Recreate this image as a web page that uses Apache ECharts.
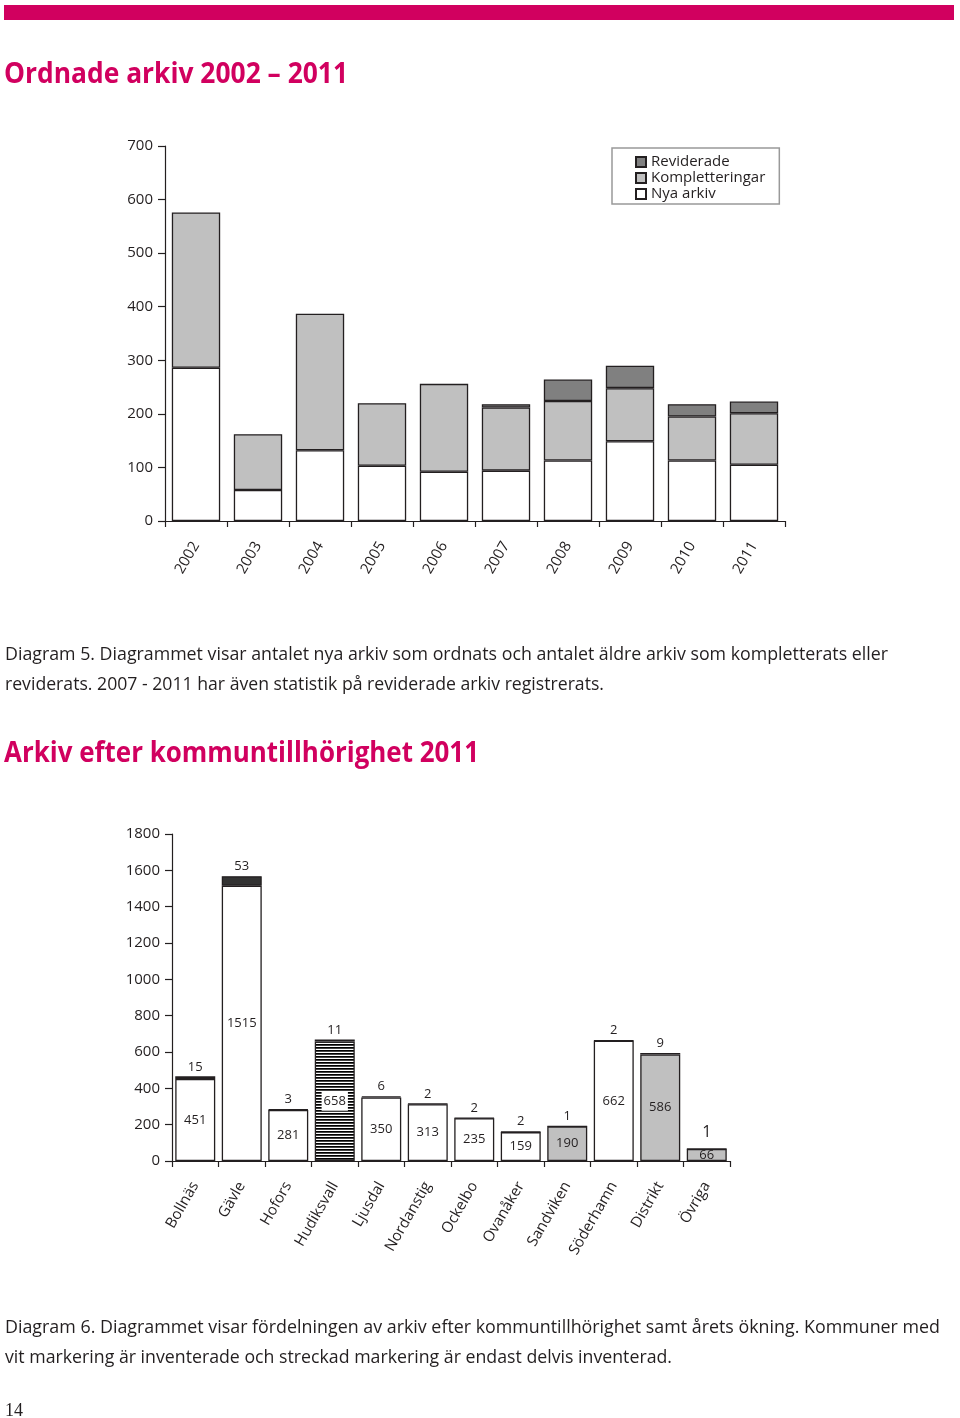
<!DOCTYPE html>
<html><head><meta charset="utf-8">
<script src="https://cdn.jsdelivr.net/npm/echarts@6/dist/echarts.min.js"></script>
<style>html,body{margin:0;padding:0;background:#fff}#c{width:960px;height:1418px}</style>
</head><body><div id="c"></div>
<script>
// ---- Diagram 5 data ----
const years = ['2002','2003','2004','2005','2006','2007','2008','2009','2010','2011'];
const nyaArkiv = [286, 58, 132, 103, 92, 94, 113, 149, 113, 105];
const kompletteringar = [290, 104, 255, 117, 164, 118, 111, 99, 82, 96];
const reviderade = [null, null, null, null, null, 6, 40, 42, 23, 22];
const yTicks5 = [0, 100, 200, 300, 400, 500, 600, 700];

// ---- Diagram 6 data ----
const kommuner = ['Bollnäs','Gävle','Hofors','Hudiksvall','Ljusdal','Nordanstig','Ockelbo','Ovanåker','Sandviken','Söderhamn','Distrikt','Övriga'];
const arkiv2011 = [451, 1515, 281, 658, 350, 313, 235, 159, 190, 662, 586, 66];
const okning = [15, 53, 3, 11, 6, 2, 2, 2, 1, 2, 9, 1];
const inventering = ['inventerad','inventerad','inventerad','delvis','inventerad','inventerad','inventerad','inventerad','ej','inventerad','ej','ej'];
const yTicks6 = [0, 200, 400, 600, 800, 1000, 1200, 1400, 1600, 1800];

const PINK = '#d1005f';
const INK = '#231f20';
const FONT = '"Open Sans", "Noto Sans", sans-serif';

// stripe pattern for partly inventoried
const pc = document.createElement('canvas');
pc.width = 4; pc.height = 3;
const pctx = pc.getContext('2d');
pctx.fillStyle = '#fff'; pctx.fillRect(0,0,4,3);
pctx.fillStyle = '#000'; pctx.fillRect(0,0,4,1);
pctx.fillStyle = '#444'; pctx.fillRect(0,1,4,1);
const stripe = {image: pc, repeat: 'repeat'};

function baseColor(s){
  if (s === 'delvis') return stripe;
  if (s === 'ej') return '#c0c0c0';
  return '#ffffff';
}

// text width fitting helper
const mc = document.createElement('canvas').getContext('2d');
function fitText(text, x, yMid, font, fill, target){
  mc.font = font;
  const w = mc.measureText(text).width;
  const s = target ? target / w : 1;
  return {type:'text', x: x, y: yMid, scaleX: s, originX: 0,
    style:{text: text, font: font, fill: fill, verticalAlign:'middle', align:'left'}};
}

const chart = echarts.init(document.getElementById('c'), null, {renderer:'canvas'});

const axisCommon = {
  axisLine:{show:true, lineStyle:{color:INK, width:1.2}},
  axisTick:{show:true, inside:false, lineStyle:{color:INK, width:1.2}},
  splitLine:{show:false}
};
const plain = v => String(v);

const option = {
  animation:false,
  textStyle:{fontFamily: FONT, color: INK},
  legend:{
    data:['Reviderade','Kompletteringar','Nya arkiv'],
    orient:'vertical', left:612, top:148,
    padding:[6,14,2,23], itemGap:0, itemWidth:10, itemHeight:10,
    borderColor:'#999', borderWidth:1.5, icon:'rect',
    textStyle:{fontSize:15, color:INK, fontFamily:FONT, lineHeight:16, padding:[0,0,0,0]}
  },
  grid:[
    {left:165, top:146, width:620, height:375},
    {left:172, top:834, width:558, height:327}
  ],
  xAxis:[
    Object.assign({}, axisCommon, {
      type:'category', gridIndex:0, data: years,
      axisTick:{show:true, length:6, alignWithLabel:false, lineStyle:{color:INK, width:1.2}},
      axisLabel:{rotate:60, margin:22, fontSize:15, color:INK, fontFamily:FONT}
    }),
    Object.assign({}, axisCommon, {
      type:'category', gridIndex:1, data: kommuner,
      axisTick:{show:true, length:6, alignWithLabel:false, lineStyle:{color:INK, width:1.2}},
      axisLabel:{rotate:60, margin:22, fontSize:15, color:INK, fontFamily:FONT}
    })
  ],
  yAxis:[
    Object.assign({}, axisCommon, {
      type:'value', gridIndex:0, min:yTicks5[0], max:yTicks5[yTicks5.length-1], interval:100,
      axisTick:{show:true, length:7, lineStyle:{color:INK, width:1.2}},
      axisLabel:{margin:12, fontSize:15, color:INK, fontFamily:FONT, formatter: plain}
    }),
    Object.assign({}, axisCommon, {
      type:'value', gridIndex:1, min:yTicks6[0], max:yTicks6[yTicks6.length-1], interval:200,
      axisTick:{show:true, length:7, lineStyle:{color:INK, width:1.2}},
      axisLabel:{margin:12, fontSize:15, color:INK, fontFamily:FONT, formatter: plain}
    })
  ],
  series:[
    {name:'Nya arkiv', type:'bar', stack:'a', xAxisIndex:0, yAxisIndex:0, barWidth:'78%',
      itemStyle:{color:'#ffffff', borderColor:INK, borderWidth:1.3}, data: nyaArkiv},
    {name:'Kompletteringar', type:'bar', stack:'a', xAxisIndex:0, yAxisIndex:0, barWidth:'78%',
      itemStyle:{color:'#c0c0c0', borderColor:INK, borderWidth:1.3}, data: kompletteringar},
    {name:'Reviderade', type:'bar', stack:'a', xAxisIndex:0, yAxisIndex:0, barWidth:'78%',
      itemStyle:{color:'#808080', borderColor:INK, borderWidth:1.3}, data: reviderade},
    {name:'Arkiv 2011', type:'bar', stack:'b', xAxisIndex:1, yAxisIndex:1, barWidth:'86%',
      itemStyle:{borderColor:INK, borderWidth:1.3},
      label:{show:true, position:'inside', fontSize:13, color:INK, fontFamily:FONT},
      data: arkiv2011.map((v,i)=>{
        const d = {value:v, itemStyle:{color: baseColor(inventering[i])}};
        if (inventering[i]==='delvis') d.label = {backgroundColor:'#fff', padding:[3,2,3,2]};
        return d;
      })},
    {name:'Ökning', type:'bar', stack:'b', xAxisIndex:1, yAxisIndex:1, barWidth:'86%',
      itemStyle:{color:'#333333', borderColor:INK, borderWidth:1.3},
      label:{show:true, position:'top', distance:3, fontSize:13, color:INK, fontFamily:FONT},
      data: okning.map((v,i)=> i===okning.length-1 ? {value:v, label:{fontSize:16, distance:8}} : v)}
  ],
  graphic:[
    {type:'rect', shape:{x:4, y:5, width:950, height:15}, style:{fill:PINK}},
    fitText('Ordnade arkiv 2002 – 2011', 4, 75, 'bold 28px ' + FONT, PINK, 344),
    fitText('Diagram 5. Diagrammet visar antalet nya arkiv som ordnats och antalet äldre arkiv som kompletterats eller', 5, 655, '18px ' + FONT, INK, 883),
    fitText('reviderats. 2007 - 2011 har även statistik på reviderade arkiv registrerats.', 5, 685, '18px ' + FONT, INK, 599),
    fitText('Arkiv efter kommuntillhörighet 2011', 4, 754, 'bold 28px ' + FONT, PINK, 475),
    fitText('Diagram 6. Diagrammet visar fördelningen av arkiv efter kommuntillhörighet samt årets ökning. Kommuner med', 5, 1328, '18px ' + FONT, INK, 935),
    fitText('vit markering är inventerade och streckad markering är endast delvis inventerad.', 5, 1358, '18px ' + FONT, INK, 667),
    fitText('14', 5, 1411, '18px "Liberation Serif", serif', INK, 0)
  ]
};
chart.setOption(option);
</script>
</body></html>
